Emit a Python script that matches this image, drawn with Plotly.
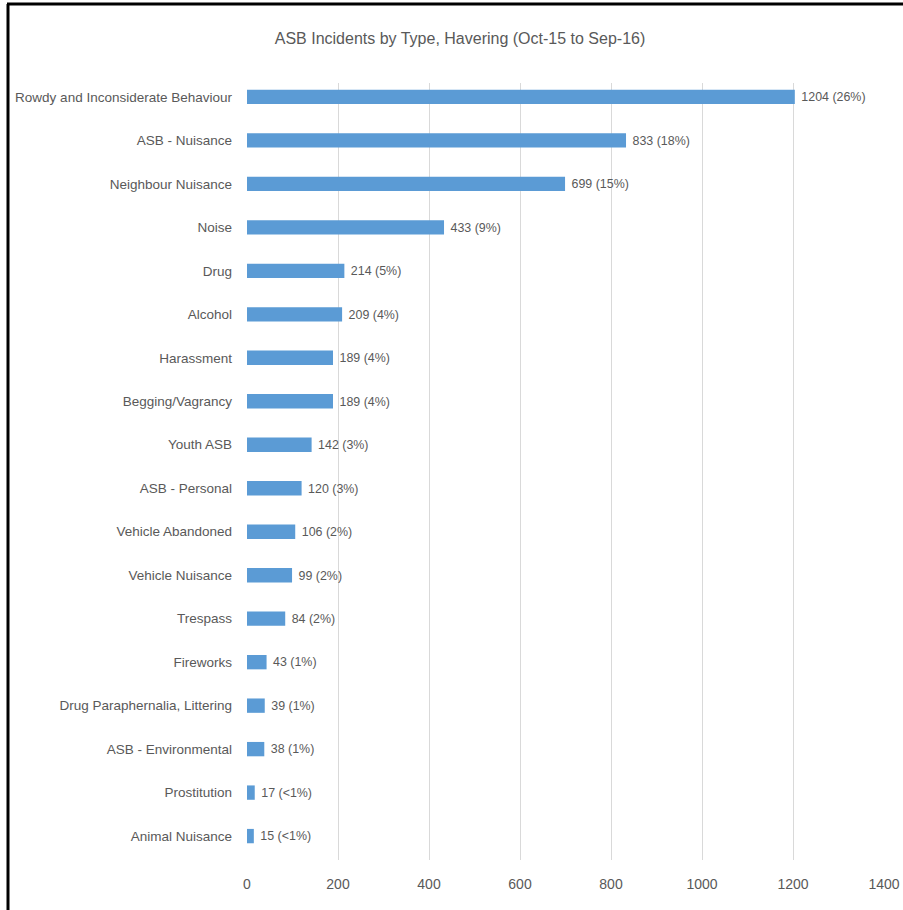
import plotly.graph_objects as go

categories = ["Rowdy and Inconsiderate Behaviour", "ASB - Nuisance", "Neighbour Nuisance", "Noise",
              "Drug", "Alcohol", "Harassment", "Begging/Vagrancy", "Youth ASB", "ASB - Personal",
              "Vehicle Abandoned", "Vehicle Nuisance", "Trespass", "Fireworks",
              "Drug Paraphernalia, Littering", "ASB - Environmental", "Prostitution", "Animal Nuisance"]
values = [1204, 833, 699, 433, 214, 209, 189, 189, 142, 120, 106, 99, 84, 43, 39, 38, 17, 15]
percents = ["26%", "18%", "15%", "9%", "5%", "4%", "4%", "4%", "3%", "3%", "2%", "2%", "2%",
            "1%", "1%", "1%", "<1%", "<1%"]
x_ticks = [0, 200, 400, 600, 800, 1000, 1200, 1400]

W, H = 903, 910
L, R, T, B = 247, 19, 83, 50
FONT = "Liberation Sans, Arial, sans-serif"
GREY = "#595959"

labels = [f"\u00a0{v} ({p})" for v, p in zip(values, percents)]

fig = go.Figure(go.Bar(
    x=values, y=categories, orientation="h",
    marker=dict(color="#5B9BD5", line=dict(width=0)),
    width=0.33,
    text=labels, textposition="outside", cliponaxis=False,
    textfont=dict(family=FONT, size=13, color=GREY),
))

def px_x(p):
    return (p - L) / (W - L - R)

def px_y(p):
    return 1 - (p - T) / (H - T - B)

fig.update_layout(
    width=W, height=H,
    margin=dict(l=L, r=R, t=T, b=B, autoexpand=False),
    paper_bgcolor="white", plot_bgcolor="white",
    showlegend=False,
    font=dict(family=FONT, color=GREY),
    title=dict(text="ASB Incidents by Type, Havering (Oct-15 to Sep-16)",
               x=460 / W, xanchor="center", y=1 - 38 / H, yanchor="middle",
               font=dict(family=FONT, size=16, color=GREY)),
    xaxis=dict(range=[0, 1400], tickvals=x_ticks, showgrid=True, gridcolor="#D9D9D9",
               gridwidth=1, zeroline=False, showline=False, automargin=False,
               tickfont=dict(family=FONT, size=14, color=GREY), ticklabelstandoff=14),
    yaxis=dict(type="category", range=[17.55, -0.32], showgrid=False, zeroline=False,
               showline=False, automargin=False,
               tickfont=dict(family=FONT, size=13.5, color=GREY),
               ticklabelstandoff=14),
    shapes=[
        dict(type="line", xref="paper", yref="paper", x0=px_x(8), x1=px_x(8),
             y0=px_y(4), y1=px_y(H + 5), line=dict(color="black", width=3)),
        dict(type="line", xref="paper", yref="paper", x0=px_x(7), x1=px_x(W + 5),
             y0=px_y(4), y1=px_y(4), line=dict(color="black", width=3)),
    ],
)

fig.write_html("out.html")
